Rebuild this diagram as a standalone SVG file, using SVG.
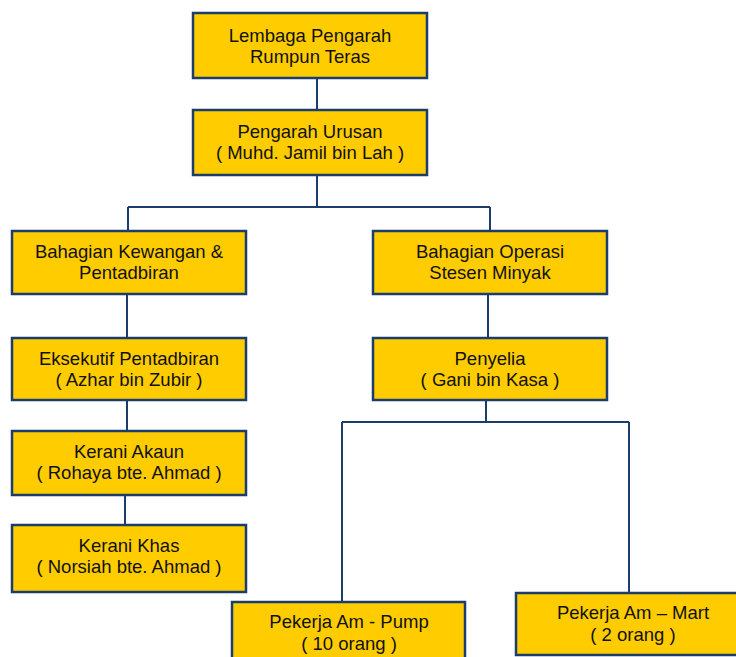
<svg xmlns="http://www.w3.org/2000/svg" width="736" height="657" viewBox="0 0 736 657">
<style>
.box{fill:#FFCC00;stroke:#1A3D6B;stroke-width:2.5}
.t{font-family:"Liberation Sans",Arial,sans-serif;font-size:18.5px;fill:#111;text-anchor:middle}
.c{fill:none;stroke:#1A3D6B;stroke-width:2}
</style>
<rect width="736" height="657" fill="#fff"/>
<g id="connectors">
<path class="c" d="M317 78V110"/>
<path class="c" d="M317 175V207M128 207H490M128 207V231M490 207V231"/>
<path class="c" d="M127 294V338"/>
<path class="c" d="M127 400V431"/>
<path class="c" d="M125 495V525"/>
<path class="c" d="M488 294V338"/>
<path class="c" d="M486 400V422M342 422H629M342 422V602M629 422V593"/>
</g>
<g id="n1"><rect class="box" x="193" y="13" width="234" height="65"/><text class="t" x="310" y="42">Lembaga Pengarah</text><text class="t" x="310" y="63">Rumpun Teras</text></g>
<g id="n2"><rect class="box" x="193" y="110" width="234" height="65"/><text class="t" x="310" y="138">Pengarah Urusan</text><text class="t" x="310" y="159">( Muhd. Jamil bin Lah )</text></g>
<g id="n3"><rect class="box" x="12" y="231" width="234" height="63"/><text class="t" x="129" y="258">Bahagian Kewangan &amp;</text><text class="t" x="129" y="279">Pentadbiran</text></g>
<g id="n4"><rect class="box" x="373" y="231" width="234" height="63"/><text class="t" x="490" y="258">Bahagian Operasi</text><text class="t" x="490" y="279">Stesen Minyak</text></g>
<g id="n5"><rect class="box" x="12" y="338" width="234" height="62"/><text class="t" x="129" y="365">Eksekutif Pentadbiran</text><text class="t" x="129" y="386">( Azhar bin Zubir )</text></g>
<g id="n6"><rect class="box" x="373" y="338" width="234" height="62"/><text class="t" x="490" y="365">Penyelia</text><text class="t" x="490" y="386">( Gani bin Kasa )</text></g>
<g id="n7"><rect class="box" x="12" y="431" width="234" height="64"/><text class="t" x="129" y="458">Kerani Akaun</text><text class="t" x="129" y="479">( Rohaya bte. Ahmad )</text></g>
<g id="n8"><rect class="box" x="12" y="525" width="234" height="67"/><text class="t" x="129" y="552">Kerani Khas</text><text class="t" x="129" y="573">( Norsiah bte. Ahmad )</text></g>
<g id="n9"><rect class="box" x="232" y="602" width="233" height="65"/><text class="t" x="349" y="628">Pekerja Am - Pump</text><text class="t" x="349" y="650">( 10 orang )</text></g>
<g id="n10"><rect class="box" x="516" y="593" width="234" height="62"/><text class="t" x="633" y="619">Pekerja Am – Mart</text><text class="t" x="633" y="641">( 2 orang )</text></g>
</svg>
